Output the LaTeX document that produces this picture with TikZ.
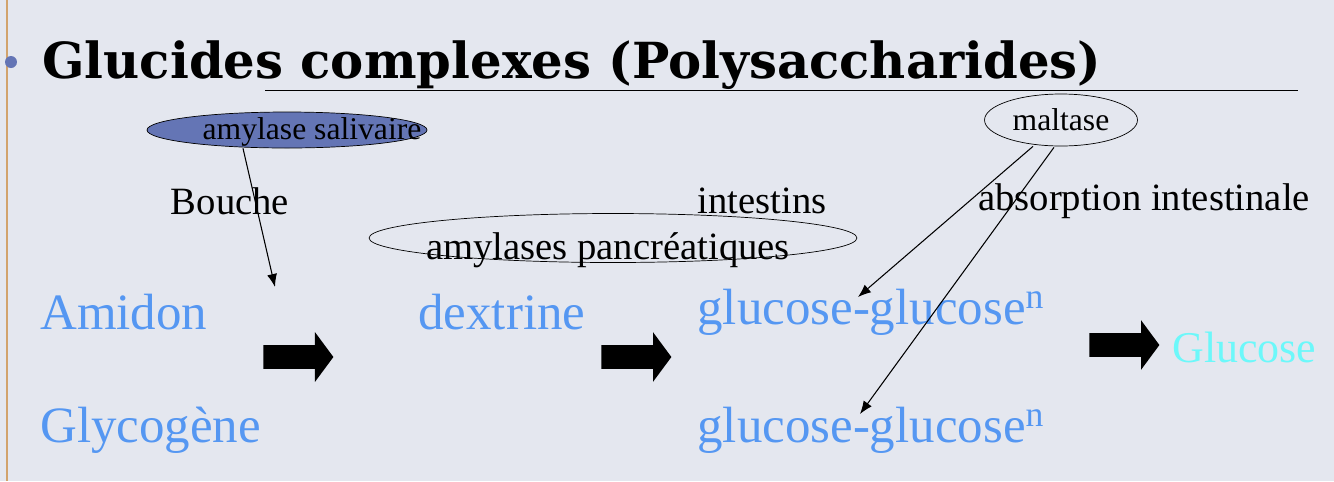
\documentclass[tikz,border=0pt]{standalone}
\usepackage{fontspec}
\setmainfont{Liberation Serif}
\newfontfamily\titlefont{DejaVu Serif}
\usetikzlibrary{shapes.geometric,shapes.arrows,arrows.meta}
\definecolor{slidebg}{HTML}{E4E7EF}
\definecolor{sugarblue}{HTML}{5597F2}
\definecolor{sugarcyan}{HTML}{6CF8FA}
\definecolor{enzfill}{HTML}{6475B5}
\definecolor{railorange}{HTML}{D2A36C}
\tikzset{
  sugar/.style={text=sugarblue, font=\fontsize{29}{32}\selectfont, inner sep=0pt},
  site/.style={font=\fontsize{22}{25}\selectfont, inner sep=0pt},
  enzlabel/.style={font=\fontsize{18}{21}\selectfont, inner sep=0pt},
  enzyme/.style={draw, ellipse, inner sep=0pt},
  bigarrow/.style={single arrow, fill=black, draw=none, minimum height=1.4cm,
    single arrow head extend=0.26cm, inner sep=0pt, outer sep=0pt,
    single arrow tip angle=107},
  attack/.style={-{Latex[length=2.6mm,width=2mm]}, semithick}
}
\begin{document}
\begin{tikzpicture}[x=0.02cm, y=-0.02cm]
        % slide background
        \fill[slidebg] (0,0) rectangle (1334,481);
        \useasboundingbox (0,0) rectangle (1334,481);
        \draw[railorange, line width=1.2pt] (7,0) -- (7,481);
        \fill[enzfill] (11,62) circle (0.12cm);

        % title
        \node[anchor=base west, inner sep=0pt, font=\fontsize{28.3}{32}\titlefont\bfseries]
          (title) at (42,78) {Glucides complexes (Polysaccharides)};
        \draw[thin] (265,90) -- (1298,90);

        % enzymes
        \node[enzyme, fill=enzfill, minimum width=5.6cm, minimum height=0.72cm] (salive) at (287,130) {};
        \node[enzlabel] (salivetxt) at (312,132) {amylase salivaire};
        \node[enzyme, minimum width=9.76cm, minimum height=0.98cm] (pancreas) at (613,238) {};
        \node[site] (pancreastxt) at (608,250) {amylases pancréatiques};
        \node[enzyme, enzlabel, minimum width=3.06cm, minimum height=1.04cm] (maltase) at (1061,120) {maltase};

        % sites
        \node[site] (bouche) at (230,201) {Bouche};
        \node[site] (intestin) at (762,201) {intestins};
        \node[site] (absorb) at (1144,201) {absorption intestinale};

        % sugars
        \node[sugar, anchor=west] (amidon) at (40,312) {Amidon};
        \node[sugar, anchor=west] (glycogene) at (40,430) {Glycogène};
        \node[sugar, anchor=west] (dextrine) at (418,312) {dextrine};
        \node[sugar, anchor=west] (dimer1) at (697,312) {glucose-glucose\textsuperscript{n}};
        \node[sugar, anchor=west] (dimer2) at (697,430) {glucose-glucose\textsuperscript{n}};
        \node[sugar, anchor=west, text=sugarcyan, font=\fontsize{25}{28}\selectfont] (glucose) at (1172,347) {Glucose};

        % block arrows
        \node[bigarrow] (step1) at (294,357) {\rule{0pt}{0.46cm}};
        \node[bigarrow] (step2) at (632,357) {\rule{0pt}{0.46cm}};
        \node[bigarrow] (step3) at (1120,345) {\rule{0pt}{0.46cm}};

        % enzyme action
        \coordinate (hit0) at (275,287);
        \coordinate (hit1) at (858,297);
        \coordinate (hit2) at (860,414);
        \draw[attack] (salive.south) ++(-44,0) -- (hit0);
        \draw[attack] (maltase.south) ++(-28,0) -- (hit1);
        \draw[attack] (maltase.south) ++(-7,1) -- (hit2);
    \end{tikzpicture}
\end{document}
